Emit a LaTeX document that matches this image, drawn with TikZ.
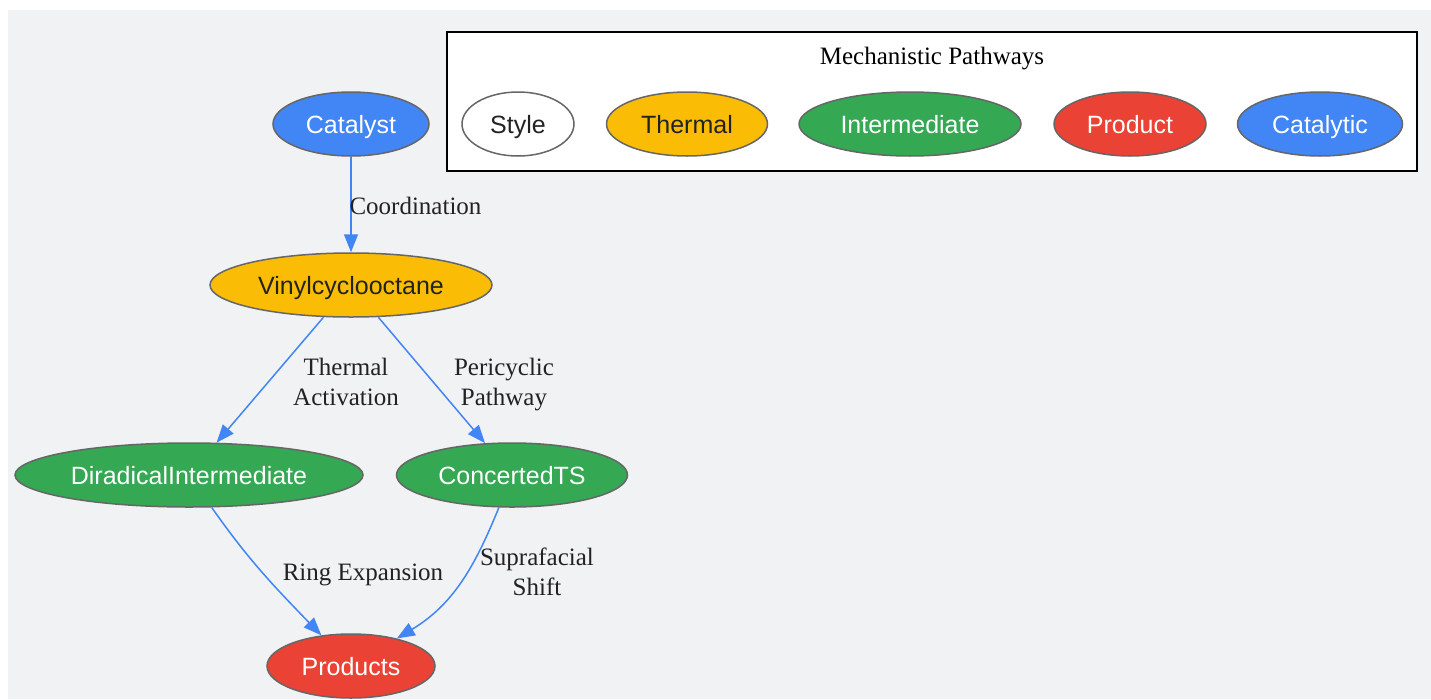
\documentclass[tikz,border=0pt]{standalone}
\usepackage{fontspec}
\setmainfont{Liberation Serif}
\newfontfamily\nodefont{Liberation Sans}
\usetikzlibrary{arrows.meta,shapes.geometric}
\definecolor{bgc}{HTML}{F1F2F4}
\definecolor{gblue}{HTML}{4285F4}
\definecolor{gyellow}{HTML}{FBBC05}
\definecolor{ggreen}{HTML}{34A853}
\definecolor{gred}{HTML}{EA4335}
\definecolor{bordc}{HTML}{666666}
\definecolor{txtc}{HTML}{222222}
\tikzset{
  nd/.style={ellipse, draw=bordc, line width=1.5pt, inner sep=0pt,
    text height=18pt, text depth=0pt,
    font=\nodefont\fontsize{25}{30}\selectfont},
  bluen/.style={nd, fill=gblue, text=white},
  yellown/.style={nd, fill=gyellow, text=txtc},
  greenn/.style={nd, fill=ggreen, text=white},
  redn/.style={nd, fill=gred, text=white},
  whiten/.style={nd, fill=white, text=txtc},
  edge/.style={draw=gblue, line width=1.5pt, -{Triangle[length=18pt,width=14pt]}},
  elabel/.style={font=\fontsize{25}{30}\selectfont, text=txtc, align=center, inner sep=0pt,
    text height=18pt, text depth=0pt},
  elabeltwo/.style={elabel, text height=48pt}
}
\begin{document}
\begin{tikzpicture}[x=1pt,y=-1pt]
\useasboundingbox (0,0) rectangle (1431,699);
\fill[bgc] (8,10) rectangle (1431,699);
% legend
\node[draw=black, fill=white, line width=2pt, minimum width=970pt, minimum height=139pt, inner sep=0pt] (legend) at (932,101.5) {};
\node[font=\fontsize{25}{30}\selectfont, text=black, inner sep=0pt, text height=18pt, text depth=0pt] (ltitle) at (932,55) {Mechanistic Pathways};
\node[whiten, minimum width=112pt, minimum height=64pt] (lstyle) at (518,124) {Style};
\node[yellown, minimum width=161pt, minimum height=64pt] (lthermal) at (687,124) {Thermal};
\node[greenn, minimum width=222pt, minimum height=64pt] (linter) at (910,124) {Intermediate};
\node[redn, minimum width=152pt, minimum height=64pt] (lprod) at (1130,124) {Product};
\node[bluen, minimum width=165pt, minimum height=64pt] (lcat) at (1320,124) {Catalytic};
% main nodes
\node[bluen, minimum width=156pt, minimum height=64pt] (cat) at (351,124) {Catalyst};
\node[yellown, minimum width=282pt, minimum height=64pt] (vin) at (351,285) {Vinylcyclooctane};
\node[greenn, minimum width=348pt, minimum height=64pt] (dir) at (189,475) {DiradicalIntermediate};
\node[greenn, minimum width=231pt, minimum height=64pt] (con) at (512,475) {ConcertedTS};
\node[redn, minimum width=168pt, minimum height=64pt] (prod) at (351,666) {Products};
% edges
\draw[edge] (cat) -- (vin);
\draw[edge] (vin) -- (dir);
\draw[edge] (vin) -- (con);
\draw[edge] (dir) to[out=-55,in=134] (prod);
\draw[edge] (con) to[out=-112,in=31] (prod);
% labels
\node[elabel] (l1) at (415.5,205) {Coordination};
\node[elabeltwo] (l2) at (346,381) {Thermal\\Activation};
\node[elabeltwo] (l3) at (504,381) {Pericyclic\\Pathway};
\node[elabel] (l4) at (363,571) {Ring Expansion};
\node[elabeltwo] (l5) at (537,571) {Suprafacial\\Shift};
\end{tikzpicture}
\end{document}
